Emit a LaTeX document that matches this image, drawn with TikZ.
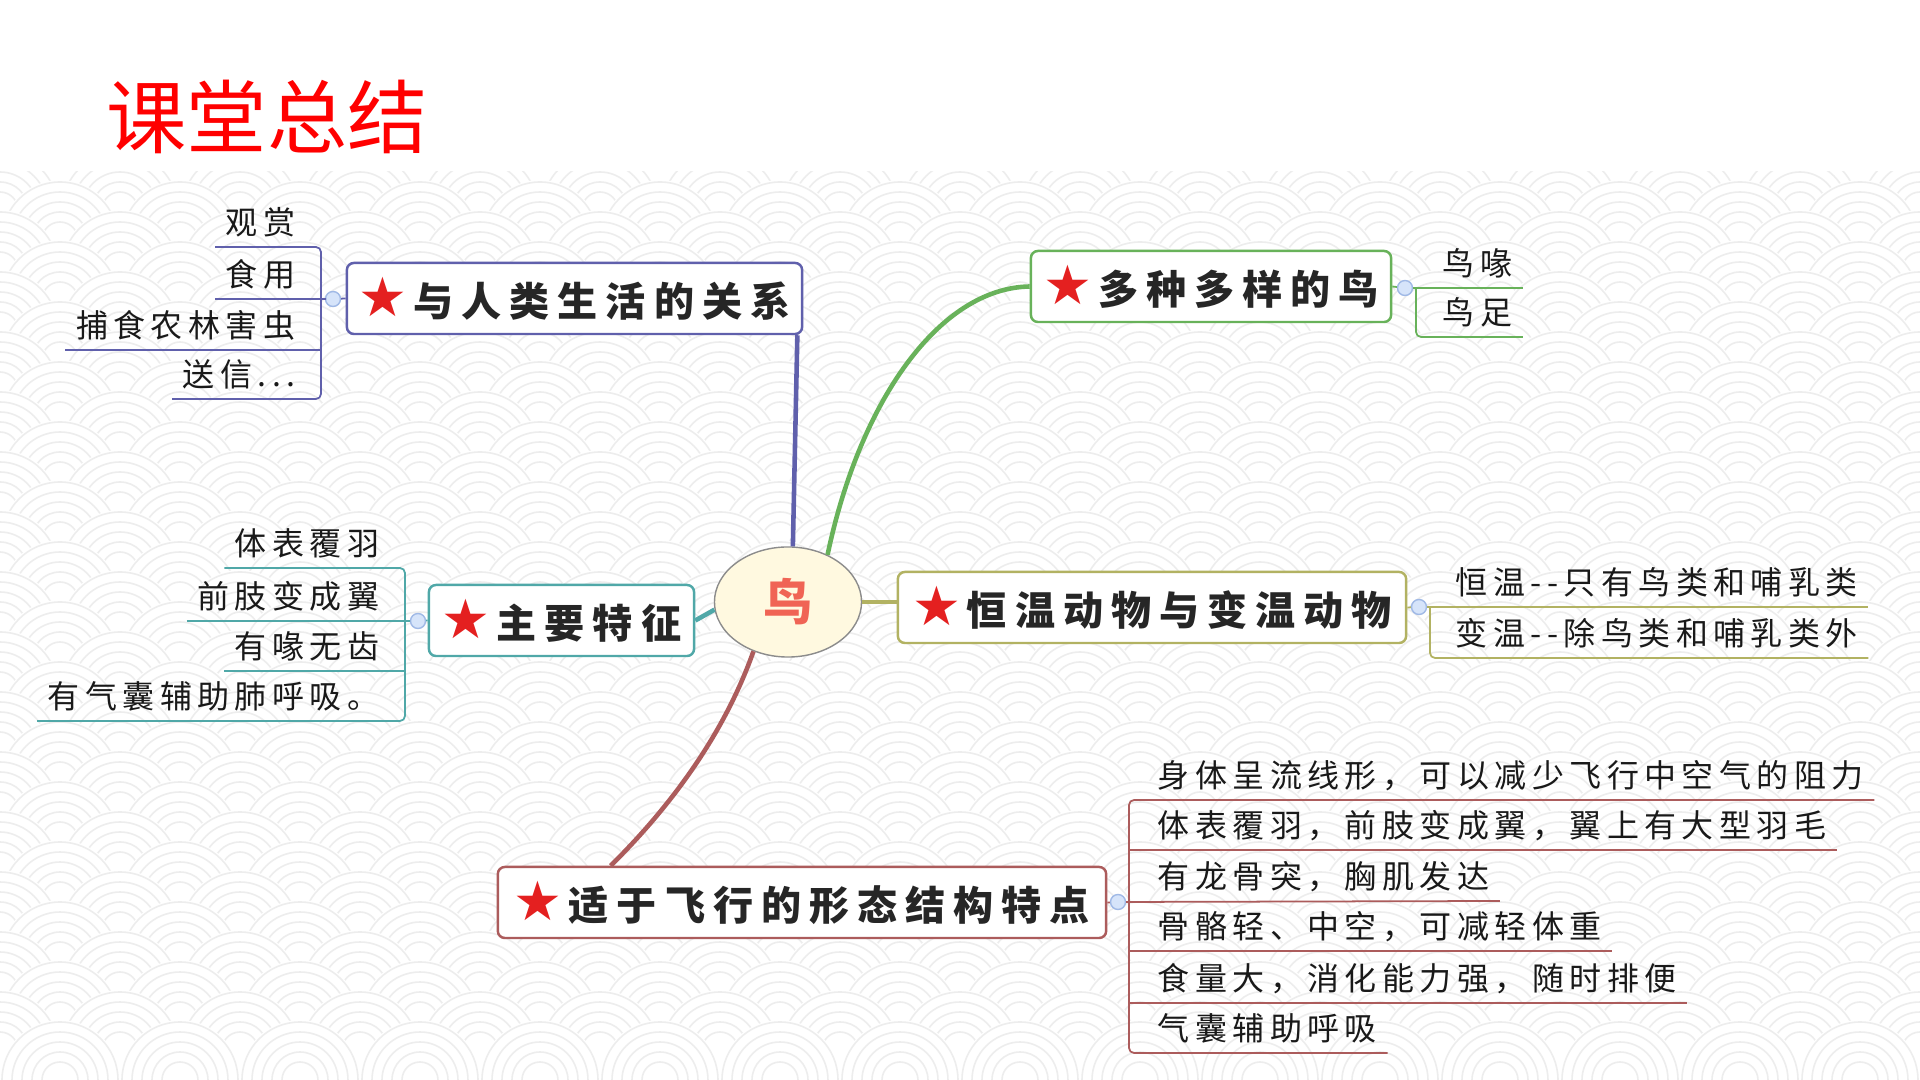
\documentclass[tikz,border=0pt]{standalone}
\usepackage{fontspec}
\setmainfont{Noto Sans CJK SC}
\newfontfamily\branchfont[LetterSpace=20]{Noto Sans CJK SC}
\newfontfamily\leaffont[LetterSpace=17]{Noto Sans CJK SC}
\newfontfamily\starfont{DejaVu Sans}
\usetikzlibrary{positioning,shapes.geometric}

\definecolor{titlered}{RGB}{255,0,0}
\definecolor{starred}{RGB}{228,32,32}
\definecolor{birdfill}{RGB}{255,249,224}
\definecolor{birdred}{RGB}{240,100,85}
\definecolor{relcol}{RGB}{96,96,172}
\definecolor{varcol}{RGB}{104,178,90}
\definecolor{featcol}{RGB}{80,168,168}
\definecolor{tempcol}{RGB}{178,178,98}
\definecolor{flycol}{RGB}{172,92,92}
\definecolor{foldfill}{RGB}{214,228,250}
\definecolor{foldline}{RGB}{160,185,230}

\newcommand\mystar{{\starfont\fontsize{15.5pt}{15.5pt}\selectfont\textcolor{starred}{★}}\hspace{0.06cm}}

\begin{document}
\begin{tikzpicture}[x=0.01cm,y=0.01cm,
    wave/.style={draw=black!7,line width=0.45pt},
    branch/.style={draw=#1,fill=white,line width=0.7pt,rounded corners=0.07cm,
      minimum height=0.71cm,inner sep=0pt,text=black!85,
      font=\branchfont\bfseries\fontsize{11.4pt}{13pt}\selectfont},
    leaf/.style={inner xsep=0.1cm,inner ysep=0.06cm,text height=0.27cm,text depth=0.06cm,
      text=black!90,font=\leaffont\fontsize{9.1pt}{11pt}\selectfont},
    stem/.style={draw=#1,line width=1.3pt},
    twig/.style={draw=#1,line width=0.5pt,rounded corners=0.05cm},
    fold/.style={circle,draw=foldline,fill=foldfill,minimum size=0.15cm,inner sep=0pt,line width=0.4pt}]
  \useasboundingbox (0,0) rectangle (1920,-1080);
  %% wave background
  \begin{scope}
    \clip (0,-172) rectangle (1920,-1080);
    \foreach \r [evaluate=\r as \cy using {-150-30*\r}] in {0,...,31}{
      \foreach \k [evaluate=\k as \cx using {120*\k+60*mod(\r,2)}] in {-1,...,16}{
        \fill[white] (\cx+60,\cy) arc[start angle=0,end angle=180,radius=60] -- cycle;
        \draw[wave] (\cx+58,\cy) arc[start angle=0,end angle=180,radius=58]
          (\cx+48,\cy) arc[start angle=0,end angle=180,radius=48]
          (\cx+38,\cy) arc[start angle=0,end angle=180,radius=38]
          (\cx+28,\cy) arc[start angle=0,end angle=180,radius=28]
          (\cx+18,\cy) arc[start angle=0,end angle=180,radius=18];
      }
    }
  \end{scope}

  %% title
  \node (title) [anchor=west,inner sep=0pt,text=titlered,
    font=\fontsize{22.8pt}{24pt}\selectfont] at (106,-117) {课堂总结};

  %% centre and branches
  \node (bird) [ellipse,draw=black!45,fill=birdfill,minimum width=1.47cm,minimum height=1.1cm,
    inner sep=0pt,text=birdred,font=\bfseries\fontsize{14pt}{15pt}\selectfont] at (788,-602) {鸟};
  \node (rel) [branch=relcol,minimum width=4.55cm] at (574.5,-298.5) {\mystar 与人类生活的关系};
  \node (var) [branch=varcol,minimum width=3.6cm] at (1211,-286.5) {\mystar 多种多样的鸟};
  \node (feat) [branch=featcol,minimum width=2.65cm] at (561.5,-620.5) {\mystar 主要特征};
  \node (temp) [branch=tempcol,minimum width=5.08cm] at (1152,-607.5) {\mystar 恒温动物与变温动物};
  \node (fly) [branch=flycol,minimum width=6.08cm] at (802,-902.5) {\mystar 适于飞行的形态结构特点};

  \draw[stem=relcol] (bird.85) -- ([xshift=-0.06cm]rel.south east);
  \draw[stem=varcol] (bird.50) .. controls (860,-400) and (940,-288) .. (var.west);
  \draw[stem=featcol] (feat.east) -- (bird.186);
  \draw[stem=tempcol] (bird.east) -- (bird.east -| temp.west);
  \draw[stem=flycol] (bird.235) .. controls (722,-740) and (665,-812) .. ([xshift=1.14cm]fly.north west);

  %% leaves of rel
  \coordinate (br1) at (321,-299);
  \node (fold1) [fold] at (333,-299) {};
  \node (u11) [leaf,anchor=south east] at (306,-247) {观赏};
  \node (u12) [leaf,anchor=south east] at (306,-299) {食用};
  \node (u13) [leaf,anchor=south east] at (306,-350) {捕食农林害虫};
  \node (u14) [leaf,anchor=south east] at (306,-399) {送信...};
  \draw[twig=relcol] (u11.south west) -- (u11.south west -| br1) -- (u14.south west -| br1) -- (u14.south west);
  \draw[twig=relcol] (u12.south west) -- (br1) -- (fold1);
  \draw[twig=relcol] (u13.south west) -- (u13.south west -| br1);
  \draw[twig=relcol] (fold1) -- (rel.west);

  %% leaves of var
  \coordinate (br2) at (1416,-288);
  \node (fold2) [fold] at (1405,-288) {};
  \node (u21) [leaf,anchor=south west] at (1432,-288) {鸟喙};
  \node (u22) [leaf,anchor=south west] at (1432,-337) {鸟足};
  \draw[twig=varcol] (var.east) -- (fold2);
  \draw[twig=varcol] (fold2) -- (u21.south east);
  \draw[twig=varcol] (br2) -- (br2 |- u22.south) -- (u22.south east);

  %% leaves of feat
  \coordinate (br3) at (405,-621);
  \node (fold3) [fold] at (418,-621) {};
  \node (u31) [leaf,anchor=south east] at (390,-568) {体表覆羽};
  \node (u32) [leaf,anchor=south east] at (390,-621) {前肢变成翼};
  \node (u33) [leaf,anchor=south east] at (390,-671) {有喙无齿};
  \node (u34) [leaf,anchor=south east] at (390,-721) {有气囊辅助肺呼吸。};
  \draw[twig=featcol] (u31.south west) -- (u31.south west -| br3) -- (u34.south west -| br3) -- (u34.south west);
  \draw[twig=featcol] (u32.south west) -- (br3) -- (fold3);
  \draw[twig=featcol] (u33.south west) -- (u33.south west -| br3);
  \draw[twig=featcol] (fold3) -- (feat.west);

  %% leaves of temp
  \coordinate (br4) at (1430,-607);
  \node (fold4) [fold] at (1419,-607) {};
  \node (u41) [leaf,anchor=south west] at (1445,-607) {恒温-{}-只有鸟类和哺乳类};
  \node (u42) [leaf,anchor=south west] at (1445,-658) {变温-{}-除鸟类和哺乳类外};
  \draw[twig=tempcol] (temp.east) -- (fold4);
  \draw[twig=tempcol] (fold4) -- (u41.south east);
  \draw[twig=tempcol] (br4) -- (br4 |- u42.south) -- (u42.south east);

  %% leaves of fly
  \coordinate (br5) at (1129,-902);
  \node (fold5) [fold] at (1118,-902) {};
  \node (u51) [leaf,anchor=south west] at (1147,-800) {身体呈流线形，可以减少飞行中空气的阻力};
  \node (u52) [leaf,anchor=south west] at (1147,-850) {体表覆羽，前肢变成翼，翼上有大型羽毛};
  \node (u53) [leaf,anchor=south west] at (1147,-901) {有龙骨突，胸肌发达};
  \node (u54) [leaf,anchor=south west] at (1147,-951) {骨骼轻、中空，可减轻体重};
  \node (u55) [leaf,anchor=south west] at (1147,-1003) {食量大，消化能力强，随时排便};
  \node (u56) [leaf,anchor=south west] at (1147,-1053) {气囊辅助呼吸};
  \draw[twig=flycol] (u51.south east) -- (br5 |- u51.south) -- (br5 |- u56.south) -- (u56.south east);
  \draw[twig=flycol] (br5 |- u52.south) -- (u52.south east);
  \draw[twig=flycol] (fold5) -- (u53.south east);
  \draw[twig=flycol] (br5 |- u54.south) -- (u54.south east);
  \draw[twig=flycol] (br5 |- u55.south) -- (u55.south east);
  \draw[twig=flycol] (fly.east) -- (fold5);
\end{tikzpicture}
\end{document}
